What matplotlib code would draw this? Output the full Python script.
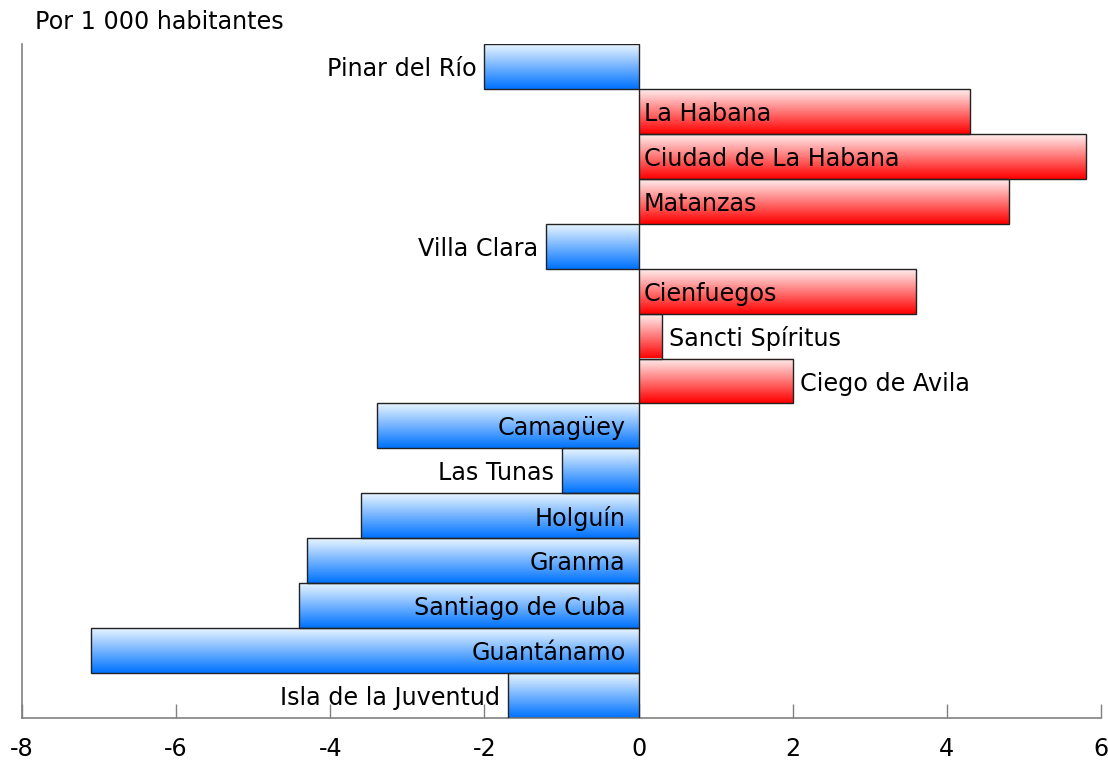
import numpy as np
import matplotlib
matplotlib.use("Agg")
import matplotlib.pyplot as plt
from matplotlib.colors import LinearSegmentedColormap

provinces = ["Pinar del Río", "La Habana", "Ciudad de La Habana", "Matanzas",
             "Villa Clara", "Cienfuegos", "Sancti Spíritus", "Ciego de Avila",
             "Camagüey", "Las Tunas", "Holguín", "Granma", "Santiago de Cuba",
             "Guantánamo", "Isla de la Juventud"]
values = [-2.0, 4.3, 5.8, 4.8, -1.2, 3.6, 0.3, 2.0,
          -3.4, -1.0, -3.6, -4.3, -4.4, -7.1, -1.7]
xticks = [-8, -6, -4, -2, 0, 2, 4, 6]
unit_label = "Por 1 000 habitantes"

plt.rcParams['font.family'] = ['DejaVu Sans']
FS = 17.2

fig = plt.figure(figsize=(11.08, 7.60), dpi=100)
ax = fig.add_axes([22/1108, 1-718/760, (1101-22)/1108, (718-44)/760])

y = np.arange(len(provinces))
bars = ax.barh(y, values, height=1.0, facecolor='none', edgecolor='#222222',
               linewidth=1.0, zorder=3)

blue_cmap = LinearSegmentedColormap.from_list('b', [(0.91, 0.96, 1.0), (0.0, 0.45, 1.0)])
red_cmap = LinearSegmentedColormap.from_list('r', [(1.0, 0.93, 0.93), (1.0, 0.0, 0.0)])
grad = np.linspace(0, 1, 64).reshape(-1, 1)

for b, v in zip(bars, values):
    x0, y0, w, h = b.get_x(), b.get_y(), b.get_width(), b.get_height()
    cmap = red_cmap if v > 0 else blue_cmap
    ax.imshow(grad, cmap=cmap, aspect='auto', interpolation='bilinear',
              extent=(x0, x0 + w, y0 + h, y0), zorder=2)

ax.set_xlim(-8, 6)
ax.set_ylim(len(provinces) - 0.5, -0.5)

fig.canvas.draw()
renderer = fig.canvas.get_renderer()
inv = ax.transData.inverted()
for yi, (name, v) in enumerate(zip(provinces, values)):
    if v < 0:
        t = ax.text(-0.17, yi, name, ha='right', va='center_baseline',
                    fontsize=FS, zorder=4)
        bb = t.get_window_extent(renderer)
        x_left = inv.transform((bb.x0, bb.y0))[0]
        if x_left - 0.1 < v:
            t.set_x(v - 0.1)
    else:
        t = ax.text(0.07, yi, name, ha='left', va='center_baseline',
                    fontsize=FS, zorder=4)
        bb = t.get_window_extent(renderer)
        x_right = inv.transform((bb.x1, bb.y0))[0]
        if x_right + 0.1 > v:
            t.set_x(v + 0.1)

for s in ['top', 'right']:
    ax.spines[s].set_visible(False)
for s in ['left', 'bottom']:
    ax.spines[s].set_color('#808080')
    ax.spines[s].set_linewidth(1.2)

ax.set_yticks([])
ax.set_xticks(xticks)
ax.set_xticklabels([str(t) for t in xticks], fontsize=FS)
ax.tick_params(axis='x', direction='in', length=10, width=1, color='#808080', pad=14)

fig.text(35/1108, 1-22/760, unit_label, fontsize=FS, ha='left', va='center')

fig.savefig("out.png", dpi=100)
